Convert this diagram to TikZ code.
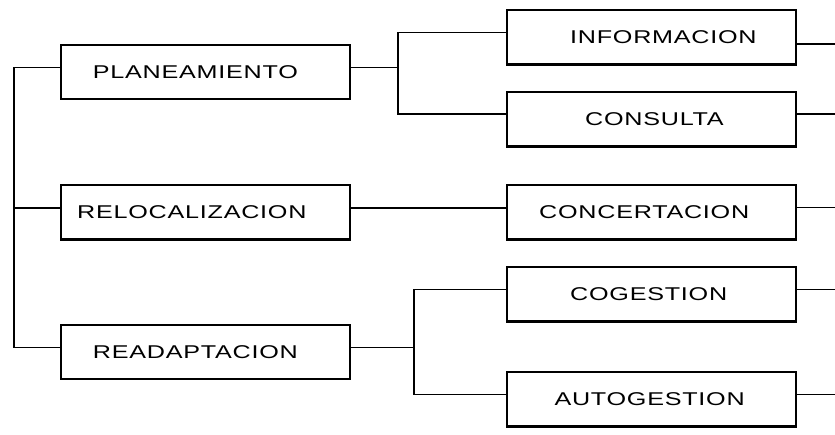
\documentclass[tikz,border=0pt]{standalone}
\usepackage{graphicx}
\usepackage{fontspec}
\newfontfamily\boxfont[LetterSpace=3]{Liberation Sans}
\newcommand\widelbl[1]{\scalebox{1.36}[1]{#1}}
\begin{document}
\begin{tikzpicture}[x=1pt,y=-1pt,
  boxnode/.style={draw=black,line width=2.4pt,minimum width=289pt,minimum height=54.5pt,inner sep=0pt,anchor=center},
  lbl/.style={anchor=west,inner sep=0pt,font=\boxfont\fontsize{18.5}{20}\selectfont},
  conn/.style={draw=black,line width=1.6pt}]
\useasboundingbox (0,0) rectangle (835,434);
% left boxes
\node[boxnode] (pla) at (205.5,72) {};
\node[boxnode] (rel) at (205.5,212.2) {};
\node[boxnode] (rea) at (205.5,352) {};
% right boxes
\node[boxnode] (inf) at (651.7,37.3) {};
\node[boxnode] (con) at (651.7,119.2) {};
\node[boxnode] (conc) at (651.7,212.3) {};
\node[boxnode] (cog) at (651.7,294.3) {};
\node[boxnode] (aut) at (651.7,399.2) {};
% labels
\node[lbl] (tpla) at (92.7,72.2) {\widelbl{PLANEAMIENTO}};
\node[lbl] (trel) at (77,212.2) {\widelbl{RELOCALIZACION}};
\node[lbl] (trea) at (92.7,352) {\widelbl{READAPTACION}};
\node[lbl] (tinf) at (570,37.2) {\widelbl{INFORMACION}};
\node[lbl] (tcon) at (585,119.2) {\widelbl{CONSULTA}};
\node[lbl] (tconc) at (539,212.3) {\widelbl{CONCERTACION}};
\node[lbl] (tcog) at (570,294.3) {\widelbl{COGESTION}};
\node[lbl] (taut) at (554.3,399.2) {\widelbl{AUTOGESTION}};
% junction coordinates
\coordinate (ltop) at (14,67.3);
\coordinate (lmid) at (14,207.7);
\coordinate (lbot) at (14,347.3);
\coordinate (pj) at (398,67.3);
\coordinate (pjt) at (398,32.5);
\coordinate (pjb) at (398,113.7);
\coordinate (rj) at (414,347.3);
\coordinate (rjt) at (414,289.3);
\coordinate (rjb) at (414,394.3);
\coordinate (e1) at (835,43.7);
\coordinate (e2) at (835,113.7);
\coordinate (e3) at (835,207.3);
\coordinate (e4) at (835,289.3);
\coordinate (e5) at (835,394.3);
% left trunk
\draw[conn] (ltop -| pla.west) -- (ltop) -- (lbot) -- (lbot -| rea.west);
\draw[conn] (lmid) -- (lmid -| rel.west);
% planeamiento branch
\draw[conn] (pj -| pla.east) -- (pj);
\draw[conn] (pjt -| inf.west) -- (pjt) -- (pjb) -- (pjb -| con.west);
% relocalizacion
\draw[conn] (lmid -| rel.east) -- (lmid -| conc.west);
% readaptacion branch
\draw[conn] (rj -| rea.east) -- (rj);
\draw[conn] (rjt -| cog.west) -- (rjt) -- (rjb) -- (rjb -| aut.west);
% right stubs
\draw[conn] (e1 -| inf.east) -- (e1);
\draw[conn] (e2 -| con.east) -- (e2);
\draw[conn] (e3 -| conc.east) -- (e3);
\draw[conn] (e4 -| cog.east) -- (e4);
\draw[conn] (e5 -| aut.east) -- (e5);
\end{tikzpicture}
\end{document}
